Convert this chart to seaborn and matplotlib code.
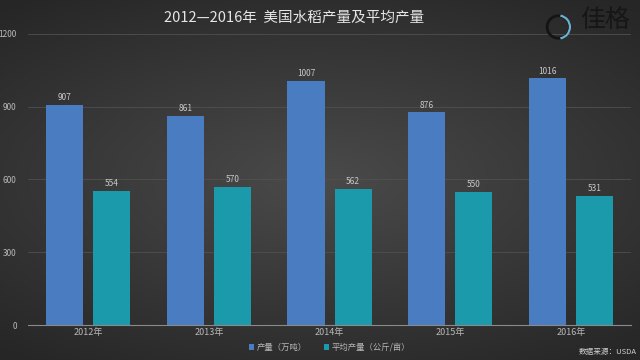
import numpy as np
import pandas as pd
import matplotlib
matplotlib.use("Agg")
import matplotlib.pyplot as plt
from matplotlib.patches import Arc, Circle
import seaborn as sns

# data
years = ["2012年", "2013年", "2014年", "2015年", "2016年"]
output = [907, 861, 1007, 876, 1016]        # 产量（万吨）
avg_output = [554, 570, 562, 550, 531]      # 平均产量（公斤/亩）
series_names = ["产量（万吨）", "平均产量（公斤/亩）"]
y_ticks = [0, 300, 600, 900, 1200]

df = pd.DataFrame({
    "year": years * 2,
    "value": output + avg_output,
    "series": [series_names[0]] * len(years) + [series_names[1]] * len(years),
})

sns.set_theme(style="dark")
plt.rcParams["font.family"] = ["Noto Sans CJK SC", "DejaVu Sans"]

fig = plt.figure(figsize=(6.4, 3.6), dpi=100)

# dark radial background
bg = fig.add_axes([0, 0, 1, 1], zorder=-5)
yy, xx = np.mgrid[-1:1:200j, -1:1:360j]
r = np.sqrt((xx * 0.9) ** 2 + (yy * 1.1) ** 2)
bg.imshow(np.clip(r, 0, 1.4), cmap=matplotlib.colors.LinearSegmentedColormap.from_list(
    "bg", ["#4a4a4a", "#383838", "#262626"]), aspect="auto", extent=[0, 1, 0, 1])
bg.set_xlim(0, 1)
bg.set_ylim(0, 1)
bg.axis("off")
# logo text drawn inside the background axes
bg.text(0.907, 0.945, "佳格", ha="left", va="center", color="#161616", fontsize=18)

ax = fig.add_axes([0.0435, 0.097, 0.943, 0.809])
ax.set_facecolor("none")
palette = {series_names[0]: "#4a7cc2", series_names[1]: "#1a9aaa"}
sns.barplot(data=df, x="year", y="value", hue="series", palette=palette,
            width=0.78, gap=0.21, saturation=1, linewidth=0, edgecolor="none",
            ax=ax, legend=True)

for c in ax.containers:
    ax.bar_label(c, fmt="%d", color="#c8c8c8", fontsize=6, padding=2)

ax.set_ylim(0, 1200)
ax.set_xlim(-0.5, 4.5)
ax.set_yticks(y_ticks)
ax.set_xlabel("")
ax.set_ylabel("")
ax.tick_params(axis="y", colors="#b8b8b8", labelsize=6, length=0, pad=8)
ax.tick_params(axis="x", colors="#b8b8b8", labelsize=6.5, length=0, pad=2)
ax.grid(axis="y", color="#505050", linewidth=0.6)
ax.set_axisbelow(True)
for s in ["top", "right", "left"]:
    ax.spines[s].set_visible(False)
ax.spines["bottom"].set_color("#8a8a8a")
ax.spines["bottom"].set_linewidth(0.8)

handles, labels = ax.get_legend_handles_labels()
ax.get_legend().remove()
leg = fig.legend(handles, labels, loc="center", bbox_to_anchor=(0.515, 0.035), ncol=2,
                 frameon=False, fontsize=6, labelcolor="#b8b8b8", handlelength=0.6,
                 handleheight=0.6, handletextpad=0.3, columnspacing=2.0)
for h in leg.get_patches():
    h.set_edgecolor("none")

fig.text(0.459, 0.95, "2012—2016年  美国水稻产量及平均产量", ha="center", va="center",
         color="#e6e6e6", fontsize=10.5, fontweight="medium")
fig.text(0.995, 0.012, "数据来源：USDA", ha="right", va="bottom", color="#cfcfcf", fontsize=5.5)

# logo ring
logo = fig.add_axes([0.85, 0.875, 0.045, 0.1], zorder=3)
logo.set_xlim(-1, 1)
logo.set_ylim(-1, 1)
logo.set_aspect("equal")
logo.axis("off")
logo.add_patch(Circle((0, 0), 0.78, fill=False, edgecolor="#141414", linewidth=2))
logo.add_patch(Arc((0, 0), 1.6, 1.6, theta1=-80, theta2=80, edgecolor="#6ab0d0", linewidth=1.6))

fig.savefig("out.png", dpi=100)
